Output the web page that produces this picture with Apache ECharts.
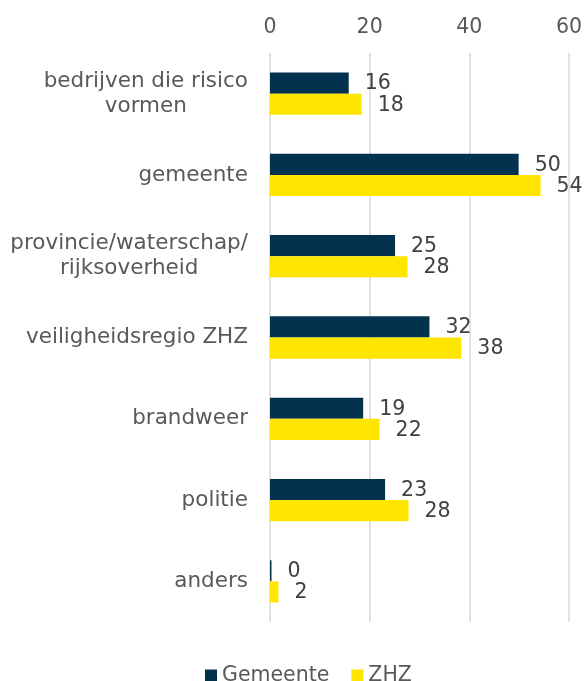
<!DOCTYPE html>
<html>
<head>
<meta charset="utf-8">
<script src="https://cdn.jsdelivr.net/npm/echarts@6/dist/echarts.min.js"></script>
<style>
  html, body { margin: 0; padding: 0; background: #fff; }
  #chart { width: 585px; height: 681px; }
</style>
</head>
<body>
<div id="chart"></div>
<script>
// categorieen, van boven naar beneden
var categories = [
  'bedrijven die risico\nvormen',
  'gemeente',
  'provincie/waterschap/\nrijksoverheid',
  'veiligheidsregio ZHZ',
  'brandweer',
  'politie',
  'anders'
]
var gemeente = [15.8, 49.9, 25.1, 32.0, 18.7, 23.1, 0.3]
var zhz = [18.4, 54.3, 27.6, 38.4, 22.0, 27.8, 1.7]
var xTicks = [0, 20, 40, 60]

var font = 'DejaVu Sans'
var myChart = echarts.init(document.getElementById('chart'))

function barLabel() {
  return {
    show: true,
    position: 'right',
    distance: 16,
    offset: [0, 1],
    color: '#404040',
    fontFamily: font,
    fontSize: 20.5,
    formatter: function (p) { return Math.round(p.value) }
  }
}

var option = {
  backgroundColor: '#fff',
  animation: false,
  grid: {
    left: 270,
    right: 15,
    top: 53,
    bottom: 59
  },
  legend: {
    top: 660,
    left: 200,
    icon: 'rect',
    itemWidth: 12,
    itemHeight: 12,
    itemGap: 22,
    textStyle: { color: '#595959', fontFamily: font, fontSize: 20.5 },
    data: ['Gemeente', 'ZHZ']
  },
  xAxis: {
    type: 'value',
    position: 'top',
    min: xTicks[0],
    max: xTicks[xTicks.length - 1],
    interval: 20,
    axisLine: { show: false },
    axisTick: { show: false },
    axisLabel: { color: '#595959', fontFamily: font, fontSize: 20.5, margin: 15 },
    splitLine: { show: true, lineStyle: { color: '#d9d9d9', width: 1.5 } }
  },
  yAxis: {
    type: 'category',
    inverse: true,
    data: categories,
    axisLine: { show: false },
    axisTick: { show: false },
    axisLabel: {
      margin: 22,
      formatter: function (v) {
        return v.split('\n').map(function (s) { return '{a|' + s + '}' }).join('\n')
      },
      rich: {
        a: { color: '#595959', fontFamily: font, fontSize: 21.5, lineHeight: 25, align: 'center' }
      }
    }
  },
  series: [
    {
      name: 'Gemeente',
      type: 'bar',
      data: gemeente,
      barGap: '0%',
      barCategoryGap: '48%',
      itemStyle: { color: '#03324f' },
      label: barLabel()
    },
    {
      name: 'ZHZ',
      type: 'bar',
      data: zhz,
      itemStyle: { color: '#ffe600' },
      label: barLabel()
    }
  ]
}

myChart.setOption(option)
</script>
</body>
</html>
